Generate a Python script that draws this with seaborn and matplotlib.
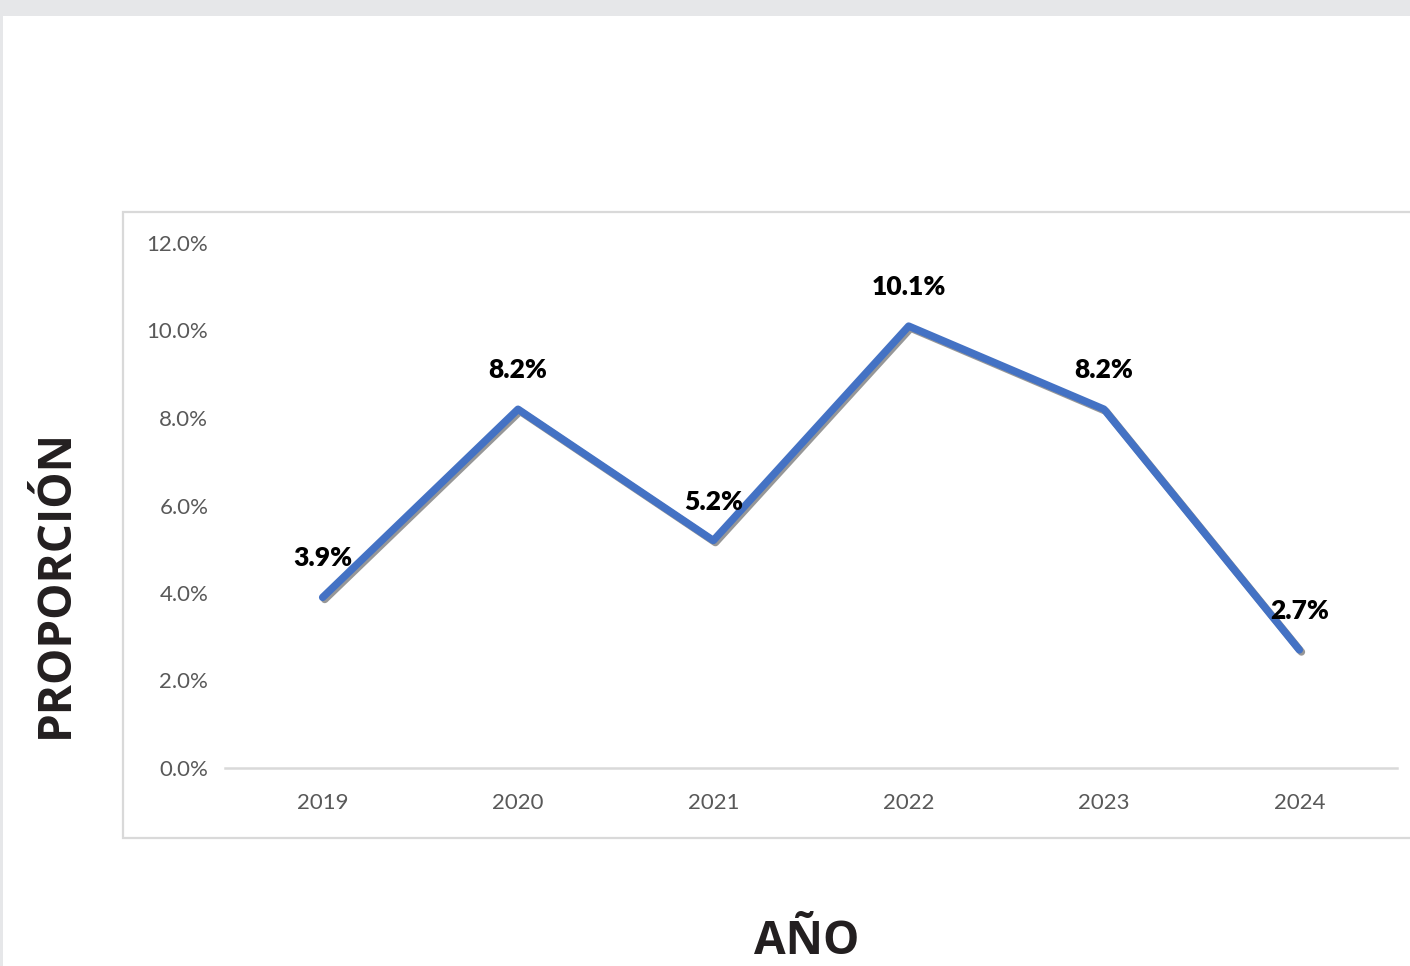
import matplotlib
matplotlib.use("Agg")
import matplotlib.pyplot as plt
import matplotlib.patheffects as pe
from matplotlib.patches import Rectangle
import seaborn as sns
import pandas as pd

years = ["2019", "2020", "2021", "2022", "2023", "2024"]
values = [3.9, 8.2, 5.2, 10.1, 8.2, 2.7]
y_ticks = [0, 2, 4, 6, 8, 10, 12]

sns.set_theme(style="white")
plt.rcParams['font.family'] = ['Lato', 'DejaVu Sans']

df = pd.DataFrame({"year": years, "value": values})

fig = plt.figure(figsize=(14.10, 9.66), dpi=100)
fig.patch.set_facecolor("white")

# background decorations
fig.add_artist(Rectangle((0, 1 - 16/966), 1, 16/966, transform=fig.transFigure,
                         facecolor="#e6e7e9", edgecolor="none", zorder=0))
fig.add_artist(Rectangle((0, 0), 3/1410, 1 - 16/966, transform=fig.transFigure,
                         facecolor="#e6e7e9", edgecolor="none", zorder=0))
fig.add_artist(Rectangle((123/1410, 1 - 838/966), (1420 - 123)/1410, (838 - 212)/966,
                         transform=fig.transFigure, facecolor="white",
                         edgecolor="#d9d9d9", linewidth=1.6, zorder=0))

ax = fig.add_axes([225/1410, 1 - 768/966, (1397 - 225)/1410, (768 - 243)/966])
ax.set_facecolor("none")

sns.lineplot(data=df, x="year", y="value", ax=ax, color="#4472c4", linewidth=5.4,
             sort=False, solid_capstyle="round",
             path_effects=[pe.SimpleLineShadow(offset=(1.5, -1.5), shadow_color="#303030", alpha=0.5),
                           pe.Normal()])

ax.set_xlim(-0.5, len(years) - 0.5)
ax.set_ylim(0, 12)
ax.set_yticks(y_ticks)
ax.set_yticklabels([f"{t:.1f}%" for t in y_ticks])

for s in ["top", "right", "left"]:
    ax.spines[s].set_visible(False)
ax.spines["bottom"].set_color("#d9d9d9")
ax.spines["bottom"].set_linewidth(1.8)

ax.tick_params(axis="y", length=0, pad=12, labelsize=16, labelcolor="#595959")
ax.tick_params(axis="x", length=0, pad=18, labelsize=16, labelcolor="#595959")
ax.set_xlabel("")
ax.set_ylabel("")

for i, v in enumerate(values):
    ax.annotate(f"{v:.1f}%", xy=(i, v), xytext=(0, 28), textcoords="offset points",
                ha="center", va="center", fontsize=19, fontweight="heavy", color="black")

fig.text(55/1410, 1 - 584/966, "PROPORCIÓN", rotation=90, ha="center", va="center",
         fontsize=33, fontweight="bold", color="#231f20", family=["Open Sans", "DejaVu Sans"])
fig.text(807/1410, 1 - 942/966, "AÑO", ha="center", va="center",
         fontsize=33, fontweight="bold", color="#231f20", family=["Open Sans", "DejaVu Sans"])

fig.savefig("out.png", dpi=100)
